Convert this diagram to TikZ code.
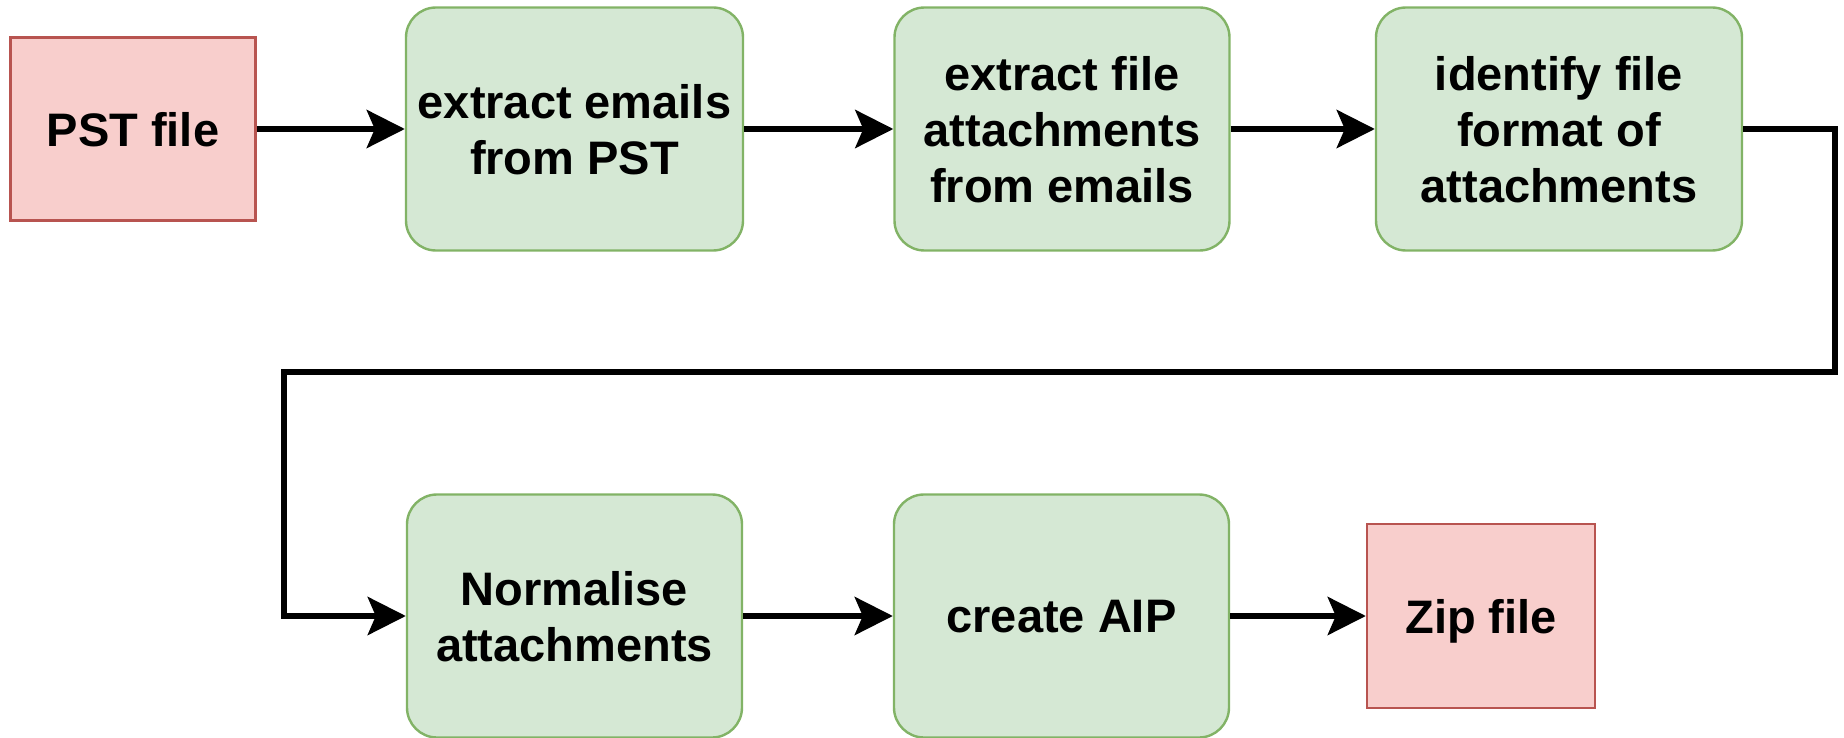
\documentclass[tikz,border=0pt]{standalone}
\usepackage{fontspec}
\setmainfont{Liberation Sans}
\usetikzlibrary{arrows.meta}

\begin{document}
\begin{tikzpicture}[x=0.5pt,y=-0.5pt,
        every node/.style={font=\fontsize{23.5}{28}\selectfont\bfseries,align=center,inner sep=0pt,text depth=0pt},
        endpoint/.style={draw={rgb,255:red,184;green,84;blue,80},line width=1.2pt,fill={rgb,255:red,248;green,206;blue,204}},
        stage/.style={draw={rgb,255:red,130;green,179;blue,102},line width=1.2pt,fill={rgb,255:red,213;green,232;blue,212},rounded corners=15pt,minimum height=121.5pt},
        flow/.style={line width=3pt,-{Stealth[length=19pt,width=19pt,inset=4pt]}}]
    \useasboundingbox (0,0) rectangle (1844,738);
    % first row
    \node[endpoint,minimum width=122.5pt,minimum height=91.5pt] (pst) at (133,129) {PST file};
    \node[stage,minimum width=168.5pt] (ext) at (574.5,129) {extract emails\\from PST};
    \node[stage,minimum width=167.5pt] (att) at (1062,129) {extract file\\attachments\\from emails};
    \node[stage,minimum width=183pt] (fmt) at (1559,129) {identify file\\format of\\attachments};
    % second row
    \node[stage,minimum width=167.5pt] (nrm) at (574.5,616) {Normalise\\attachments};
    \node[stage,minimum width=167.5pt] (aip) at (1061.5,616) {create AIP};
    \node[endpoint,minimum width=114pt,minimum height=92pt] (zip) at (1481,616) {Zip file};
    % connectors
    \coordinate (back) at (1835,372);
    \coordinate (down) at (284,372);
    \draw[flow] (pst) -- (ext);
    \draw[flow] (ext) -- (att);
    \draw[flow] (att) -- (fmt);
    \draw[flow] (fmt.east) -| (back) -- (down) |- (nrm.west);
    \draw[flow] (nrm) -- (aip);
    \draw[flow] (aip) -- (zip);
\end{tikzpicture}
\end{document}
